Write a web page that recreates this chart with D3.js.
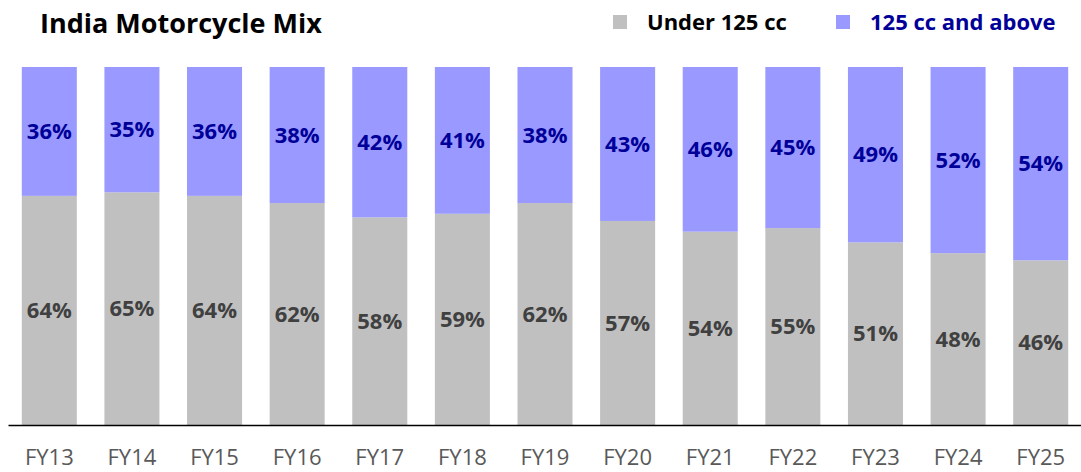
<!DOCTYPE html>
<html>
<head>
<meta charset="utf-8">
<script src="https://cdn.jsdelivr.net/npm/d3@7"></script>
<style>
  body { margin: 0; background: #fff; }
  svg { display: block; font-family: "Open Sans", "Noto Sans", sans-serif; }
</style>
</head>
<body>
<div id="chart"></div>
<script>
const years = ["FY13", "FY14", "FY15", "FY16", "FY17", "FY18", "FY19", "FY20", "FY21", "FY22", "FY23", "FY24", "FY25"];
const under125 = [64, 65, 64, 62, 58, 59, 62, 57, 54, 55, 51, 48, 46];
const above125 = [36, 35, 36, 38, 42, 41, 38, 43, 46, 45, 49, 52, 54];

const width = 1081;
const height = 472;
const margin = { top: 67, right: 0, bottom: 47, left: 8 };

const svg = d3.select("#chart")
  .append("svg")
  .attr("width", width)
  .attr("height", height);

// X scale (years)
const x = d3.scaleBand()
  .domain(years)
  .range([margin.left, 1082])
  .paddingInner(0.334)
  .paddingOuter(0.167);

// Y scale (share, 0-100)
const y = d3.scaleLinear()
  .domain([0, 100])
  .range([height - margin.bottom, margin.top]);

const data = years.map((yr, i) => ({ year: yr, low: under125[i], high: above125[i] }));

// Under 125 cc bars
svg.selectAll("rect.low")
  .data(data)
  .enter()
  .append("rect")
  .attr("class", "low")
  .attr("x", d => x(d.year))
  .attr("y", d => y(d.low))
  .attr("width", x.bandwidth())
  .attr("height", d => y(0) - y(d.low))
  .attr("fill", "#c0c0c0");

// 125 cc and above bars
svg.selectAll("rect.high")
  .data(data)
  .enter()
  .append("rect")
  .attr("class", "high")
  .attr("x", d => x(d.year))
  .attr("y", d => y(d.low + d.high))
  .attr("width", x.bandwidth())
  .attr("height", d => y(d.low) - y(d.low + d.high))
  .attr("fill", "#9999ff");

// value labels
svg.selectAll("text.lowLabel")
  .data(data)
  .enter()
  .append("text")
  .attr("x", d => x(d.year) + x.bandwidth() / 2)
  .attr("y", d => y(d.low / 2))
  .attr("dy", "0.35em")
  .attr("text-anchor", "middle")
  .attr("font-size", 22)
  .attr("font-weight", "bold")
  .attr("fill", "#404040")
  .text(d => d.low + "%");

svg.selectAll("text.highLabel")
  .data(data)
  .enter()
  .append("text")
  .attr("x", d => x(d.year) + x.bandwidth() / 2)
  .attr("y", d => y(d.low + d.high / 2))
  .attr("dy", "0.35em")
  .attr("text-anchor", "middle")
  .attr("font-size", 22)
  .attr("font-weight", "bold")
  .attr("fill", "#000099")
  .text(d => d.high + "%");

// X axis
const xAxis = svg.append("g")
  .attr("transform", `translate(0, ${y(0)})`)
  .call(d3.axisBottom(x).tickSize(0).tickPadding(24));
xAxis.select(".domain").attr("stroke", "#000").attr("stroke-width", 1.5);
xAxis.selectAll("text")
  .attr("font-size", 22)
  .attr("fill", "#595959")
  .attr("font-family", "\"Open Sans\", sans-serif");

// Title
svg.append("text")
  .attr("x", 40)
  .attr("y", 33)
  .attr("font-size", 27)
  .attr("font-weight", "bold")
  .attr("fill", "#000")
  .text("India Motorcycle Mix");

// Legend
const legend = [
  { name: "Under 125 cc", fill: "#c0c0c0", color: "#000", x: 613 },
  { name: "125 cc and above", fill: "#9999ff", color: "#000099", x: 836 }
];
const lg = svg.selectAll("g.legend")
  .data(legend)
  .enter()
  .append("g")
  .attr("transform", d => `translate(${d.x}, 15)`);
lg.append("rect")
  .attr("width", 14)
  .attr("height", 14)
  .attr("fill", d => d.fill);
lg.append("text")
  .attr("x", 34)
  .attr("y", 7)
  .attr("dy", "0.35em")
  .attr("font-size", 22)
  .attr("font-weight", "bold")
  .attr("fill", d => d.color)
  .text(d => d.name);
</script>
</body>
</html>
